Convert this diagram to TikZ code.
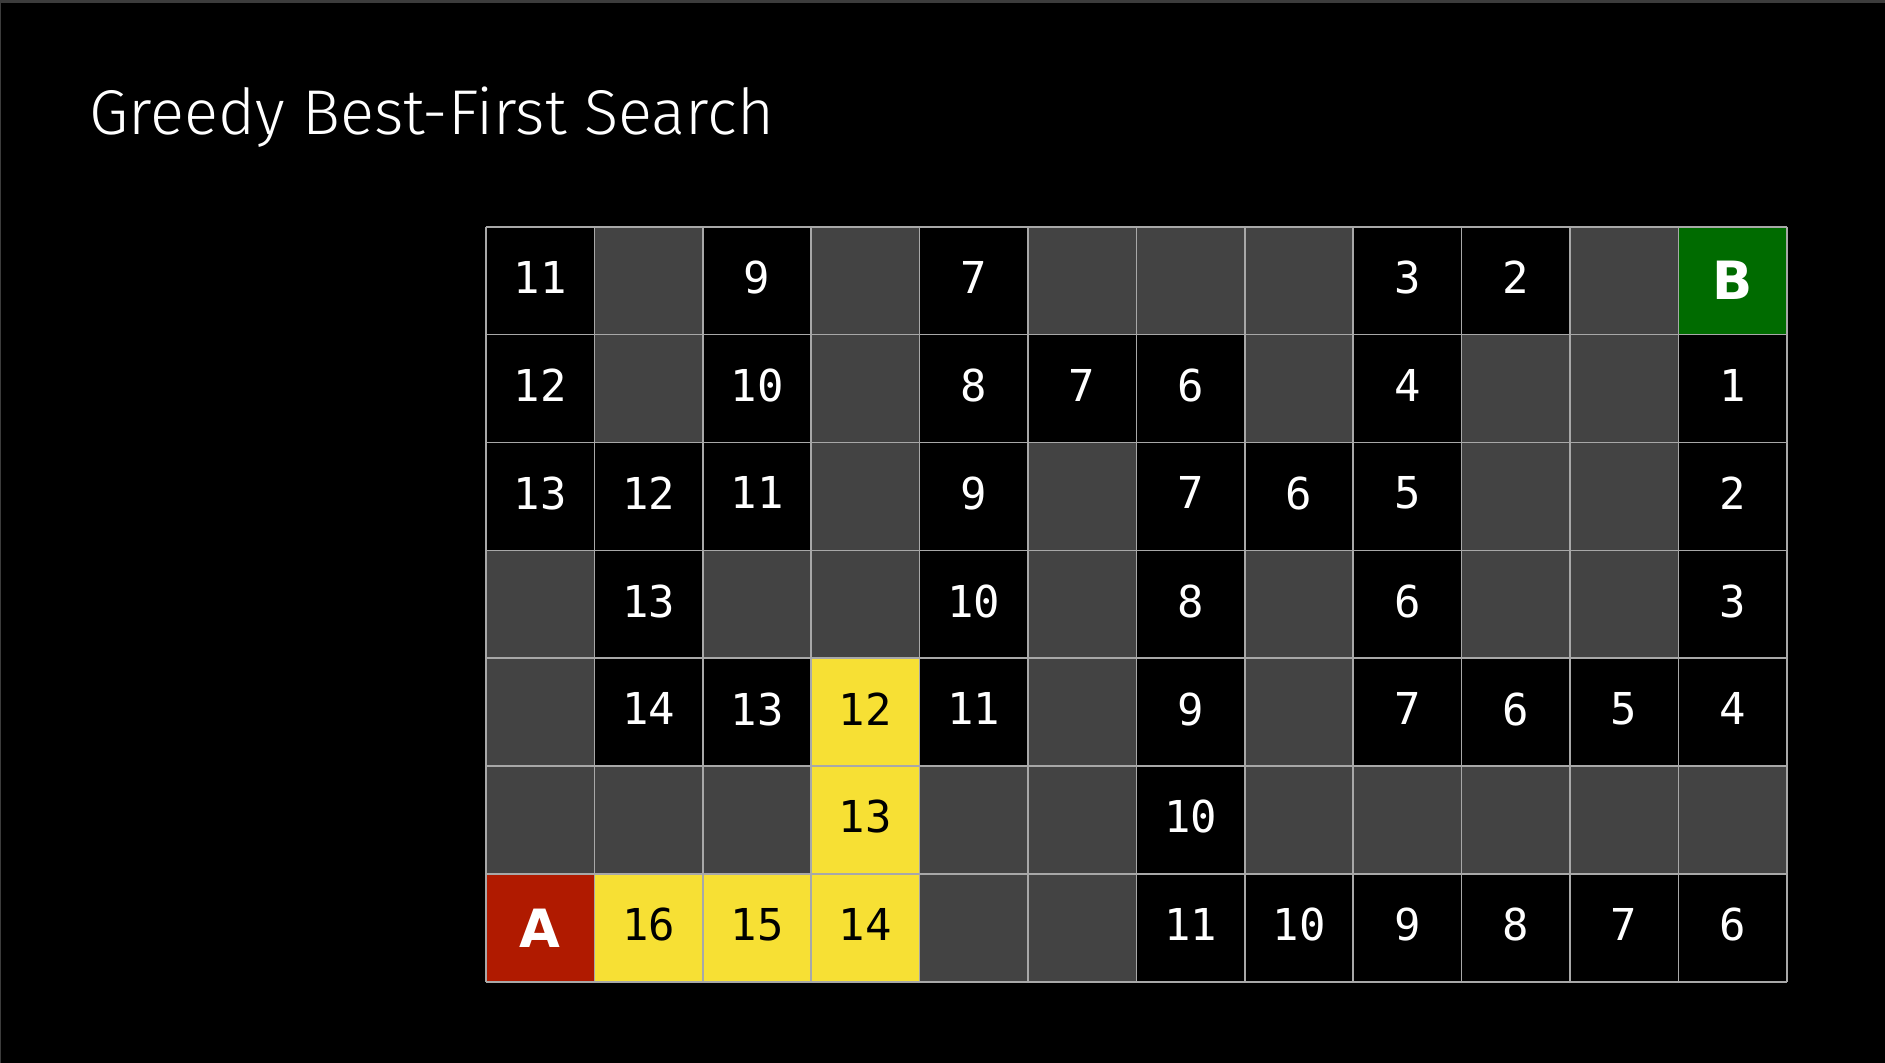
\documentclass[tikz,border=0pt]{standalone}
\usepackage{fontspec}
\setmonofont{DejaVu Sans Mono}
\newfontfamily\titlefont{Fira Sans Light}
\newfontfamily\markfont{DejaVu Sans}

\definecolor{wallgray}{HTML}{434343}
\definecolor{linegray}{HTML}{A8A8A8}
\definecolor{framegray}{HTML}{3C3C3C}
\definecolor{goalgreen}{HTML}{006B00}
\definecolor{startred}{HTML}{B01A00}
\definecolor{pathyellow}{HTML}{F7E034}

\tikzset{
  open/.style={fill=black, text=white, inner sep=0pt, minimum width=1.084cm,
    minimum height=1.079cm, text depth=0.07cm, font=\ttfamily\fontsize{12.5}{12.5}\selectfont},
  path/.style={open, fill=pathyellow, text=black},
  start/.style={open, text depth=0pt, fill=startred, font=\markfont\bfseries\fontsize{15}{15}\selectfont},
  goal/.style={start, fill=goalgreen},
  gridline/.style={linegray, line width=0.5pt}
}

\begin{document}
\begin{tikzpicture}

\fill [black] (0,0) rectangle (18.85,10.63);
\useasboundingbox (0,0) rectangle (18.85,10.63);
\draw [framegray, line width=0.8pt] (0,0) -- (0,10.615) -- (18.85,10.615);

\node [anchor=base west, text=white, inner sep=0pt, font=\titlefont\fontsize{18}{18}\selectfont] (title) at (0.89,9.28) {Greedy Best-First Search};

\begin{scope}[shift={(4.86,0.81)}, xscale=1.084, yscale=1.079]

\fill [wallgray] (0,0) rectangle (12,7);

% row 1 (top)
\node [open] (r1c1) at (0.5,6.5) {11};
\node [open] (r1c3) at (2.5,6.5) {9};
\node [open] (r1c5) at (4.5,6.5) {7};
\node [open] (r1c9) at (8.5,6.5) {3};
\node [open] (r1c10) at (9.5,6.5) {2};
\node [goal] (goal) at (11.5,6.5) {B};

% row 2
\node [open] (r2c1) at (0.5,5.5) {12};
\node [open] (r2c3) at (2.5,5.5) {10};
\node [open] (r2c5) at (4.5,5.5) {8};
\node [open] (r2c6) at (5.5,5.5) {7};
\node [open] (r2c7) at (6.5,5.5) {6};
\node [open] (r2c9) at (8.5,5.5) {4};
\node [open] (r2c12) at (11.5,5.5) {1};

% row 3
\node [open] (r3c1) at (0.5,4.5) {13};
\node [open] (r3c2) at (1.5,4.5) {12};
\node [open] (r3c3) at (2.5,4.5) {11};
\node [open] (r3c5) at (4.5,4.5) {9};
\node [open] (r3c7) at (6.5,4.5) {7};
\node [open] (r3c8) at (7.5,4.5) {6};
\node [open] (r3c9) at (8.5,4.5) {5};
\node [open] (r3c12) at (11.5,4.5) {2};

% row 4
\node [open] (r4c2) at (1.5,3.5) {13};
\node [open] (r4c5) at (4.5,3.5) {10};
\node [open] (r4c7) at (6.5,3.5) {8};
\node [open] (r4c9) at (8.5,3.5) {6};
\node [open] (r4c12) at (11.5,3.5) {3};

% row 5
\node [open] (r5c2) at (1.5,2.5) {14};
\node [open] (r5c3) at (2.5,2.5) {13};
\node [path] (r5c4) at (3.5,2.5) {12};
\node [open] (r5c5) at (4.5,2.5) {11};
\node [open] (r5c7) at (6.5,2.5) {9};
\node [open] (r5c9) at (8.5,2.5) {7};
\node [open] (r5c10) at (9.5,2.5) {6};
\node [open] (r5c11) at (10.5,2.5) {5};
\node [open] (r5c12) at (11.5,2.5) {4};

% row 6
\node [path] (r6c4) at (3.5,1.5) {13};
\node [open] (r6c7) at (6.5,1.5) {10};

% row 7 (bottom)
\node [start] (start) at (0.5,0.5) {A};
\node [path] (r7c2) at (1.5,0.5) {16};
\node [path] (r7c3) at (2.5,0.5) {15};
\node [path] (r7c4) at (3.5,0.5) {14};
\node [open] (r7c7) at (6.5,0.5) {11};
\node [open] (r7c8) at (7.5,0.5) {10};
\node [open] (r7c9) at (8.5,0.5) {9};
\node [open] (r7c10) at (9.5,0.5) {8};
\node [open] (r7c11) at (10.5,0.5) {7};
\node [open] (r7c12) at (11.5,0.5) {6};

\draw [gridline] (0,0) grid (12,7);

\end{scope}

\end{tikzpicture}
\end{document}
